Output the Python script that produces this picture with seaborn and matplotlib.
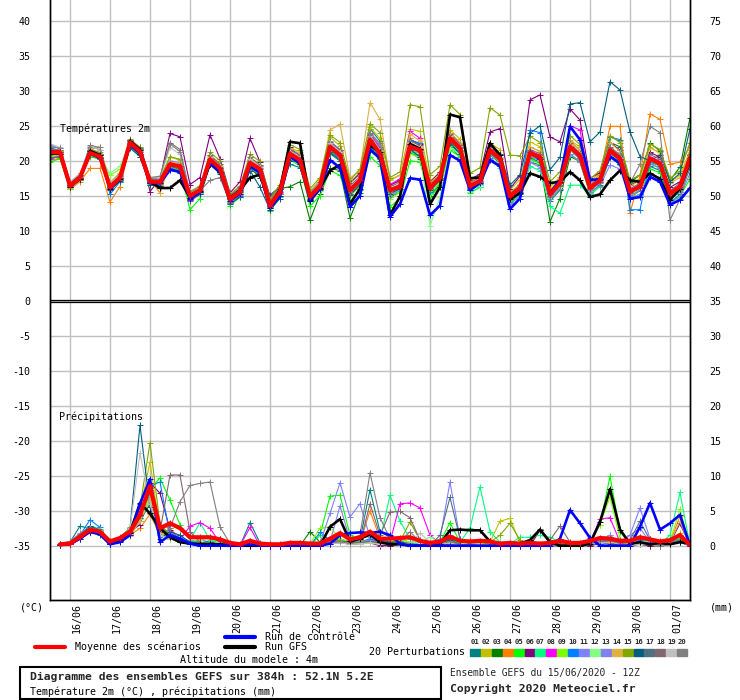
import matplotlib.pyplot as plt
import matplotlib.transforms as mtransforms
from matplotlib.lines import Line2D
from matplotlib.patches import Rectangle
import pandas as pd
import seaborn as sns

sns.set_theme(style="white")
plt.rcParams["font.family"] = ["DejaVu Sans Mono"]

W, H = 740, 700

# --- time axis (hours from 15/06/2020 12Z) ---
HOURS_T = list(range(0, 385, 6))
HOURS_P = list(range(6, 385, 6))
DATE_TICKS = list(range(12, 373, 24))
DATE_LABELS = ["16/06", "17/06", "18/06", "19/06", "20/06", "21/06", "22/06", "23/06",
               "24/06", "25/06", "26/06", "27/06", "28/06", "29/06", "30/06", "01/07"]
TEMP_TICKS = list(range(-35, 41, 5))
MM_TICKS = list(range(0, 76, 5))

MEMBERS = [f"{k:02d}" for k in range(1, 21)]
MEMBER_COLORS = ["#008080", "#c0c000", "#008000", "#ff8000", "#00ff00", "#800080", "#00ff80",
                 "#ff00ff", "#80ff00", "#0080ff", "#8080ff", "#80ff80", "#8080f0", "#e0b040",
                 "#80a800", "#005f80", "#507080", "#806870", "#c0c0c0", "#808080"]

# --- 2m temperature (°C) ---
T_MEAN = [21.2, 21.2,
          16.4, 17.6, 21.1, 20.6, 16.2, 17.6, 22.6, 21.3,
          17.0, 17.0, 19.5, 19.2, 15.0, 15.8, 20.2, 18.9,
          14.5, 15.6, 19.7, 18.8, 13.6, 15.6, 21.0, 20.1,
          14.9, 16.4, 22.0, 20.8, 15.8, 17.2, 23.0, 21.0,
          15.8, 16.3, 22.0, 21.5, 16.1, 17.6, 23.2, 21.8,
          16.4, 17.1, 21.5, 20.3, 14.9, 16.1, 21.1, 20.5,
          15.2, 16.8, 22.0, 20.7, 16.1, 17.2, 21.5, 20.3,
          15.6, 16.3, 20.3, 19.6, 15.3, 16.3, 20.4]
T_CTRL = [21.3, 21.2,
          16.5, 17.6, 21.0, 20.4, 16.1, 17.5, 22.3, 21.0,
          16.8, 16.8, 18.7, 18.4, 14.6, 15.5, 19.7, 18.4,
          14.3, 15.3, 19.2, 18.3, 13.2, 15.0, 20.6, 19.6,
          14.4, 16.0, 20.1, 19.0, 13.4, 15.0, 21.6, 20.4,
          12.0, 13.8, 17.5, 17.3, 12.2, 13.6, 20.8, 20.0,
          15.8, 16.8, 20.1, 19.2, 13.1, 14.6, 21.2, 20.2,
          15.4, 17.2, 24.9, 23.0, 17.2, 17.4, 20.6, 19.6,
          14.6, 14.8, 17.7, 17.0, 13.7, 14.4, 16.1]
T_GFS = [21.0, 21.0,
         16.3, 17.4, 21.4, 20.8, 16.0, 17.4, 22.8, 21.6,
         17.0, 16.1, 16.1, 17.2, 14.7, 15.7, 19.6, 18.4,
         14.7, 15.8, 17.6, 18.0, 13.6, 15.9, 22.7, 22.5,
         14.2, 16.1, 18.6, 19.4, 13.8, 16.0, 22.2, 21.2,
         12.2, 14.9, 22.4, 21.7, 13.8, 16.2, 26.6, 26.2,
         17.5, 17.6, 22.5, 20.8, 14.5, 15.4, 18.2, 17.7,
         16.8, 17.0, 18.4, 17.2, 14.8, 15.2, 17.2, 18.6,
         17.2, 17.0, 18.2, 17.4, 14.4, 16.0, 19.9]

T_01 = [21.5, 21.0,
        16.8, 17.8, 21.3, 20.4, 16.0, 17.2, 22.1, 20.8,
        16.6, 16.8, 19.0, 18.5, 14.6, 15.4, 19.6, 18.4,
        14.0, 15.0, 18.8, 17.9, 15.1, 16.3, 19.5, 19.0,
        15.3, 16.9, 21.0, 20.0, 15.0, 16.6, 24.6, 22.8,
        15.2, 16.0, 21.3, 20.2, 15.0, 16.5, 22.0, 20.5,
        15.8, 16.7, 20.8, 19.7, 14.0, 15.5, 19.8, 19.4,
        14.2, 15.8, 21.0, 19.8, 15.4, 16.6, 20.6, 19.5,
        14.8, 15.7, 19.2, 18.6, 14.0, 15.2, 19.0]
T_02 = [20.5, 20.8,
        16.2, 17.4, 21.0, 20.9, 16.6, 17.9, 23.0, 21.8,
        17.3, 17.2, 20.5, 20.1, 15.3, 16.0, 20.8, 19.6,
        14.8, 16.0, 20.6, 19.2, 14.2, 16.0, 21.8, 21.3,
        15.6, 17.3, 23.4, 22.1, 16.8, 18.4, 24.8, 23.2,
        17.2, 17.9, 24.5, 24.2, 17.1, 18.3, 24.4, 23.1,
        17.0, 18.0, 22.5, 21.6, 15.8, 17.3, 22.7, 22.0,
        16.2, 17.7, 22.9, 22.0, 17.0, 18.3, 23.4, 22.8,
        16.8, 17.4, 21.8, 21.2, 17.0, 17.9, 21.5]
T_03 = [20.8, 21.1,
        16.5, 17.7, 21.4, 20.8, 16.4, 17.8, 22.3, 21.0,
        16.8, 16.6, 19.2, 18.8, 14.7, 15.5, 19.8, 18.7,
        14.6, 15.7, 19.0, 17.6, 14.6, 16.0, 16.3, 17.0,
        11.5, 15.2, 18.9, 18.6, 11.8, 15.4, 21.4, 20.2,
        14.8, 15.5, 21.2, 20.6, 15.2, 16.8, 22.4, 21.0,
        15.9, 16.5, 21.0, 19.6, 14.1, 15.2, 20.4, 19.8,
        11.3, 14.6, 20.6, 19.9, 16.0, 17.4, 22.6, 22.0,
        17.0, 17.9, 22.5, 21.4, 17.2, 19.1, 26.1]
T_04 = [20.0, 20.4,
        15.9, 17.0, 18.9, 18.9, 14.1, 16.3, 22.0, 21.9,
        17.5, 15.4, 19.8, 19.0, 15.4, 16.2, 20.3, 19.1,
        14.8, 15.9, 20.1, 19.0, 13.9, 15.9, 21.4, 20.4,
        15.2, 16.8, 22.6, 21.4, 16.0, 17.5, 23.5, 21.8,
        16.5, 17.1, 23.2, 22.0, 16.4, 17.9, 23.8, 22.4,
        17.0, 17.8, 22.0, 21.0, 15.5, 16.6, 22.0, 21.3,
        15.8, 17.3, 22.7, 21.5, 16.8, 18.0, 24.9, 24.9,
        12.5, 17.8, 26.7, 25.9, 19.5, 19.8, 22.0]
T_05 = [19.8, 20.3,
        16.0, 17.3, 20.6, 20.2, 15.9, 17.0, 22.0, 20.6,
        16.5, 16.4, 19.0, 18.6, 13.0, 14.6, 19.5, 18.3,
        13.6, 14.8, 19.0, 18.0, 12.8, 14.8, 20.2, 19.2,
        13.5, 15.0, 18.6, 17.9, 14.2, 15.8, 20.6, 19.3,
        13.4, 14.6, 20.0, 19.8, 14.8, 16.4, 21.5, 20.6,
        15.4, 16.2, 20.4, 19.2, 14.2, 15.4, 20.2, 19.6,
        14.6, 16.0, 20.9, 19.8, 15.2, 16.3, 20.6, 19.4,
        14.5, 15.2, 18.8, 18.3, 14.0, 14.9, 17.4]
T_06 = [21.0, 21.4,
        16.9, 18.0, 21.6, 20.9, 16.6, 17.9, 23.0, 21.7,
        15.6, 17.4, 23.9, 23.4, 16.6, 17.6, 23.7, 20.3,
        15.4, 17.0, 23.2, 19.8, 14.9, 16.2, 21.9, 20.6,
        15.4, 17.0, 22.6, 21.6, 16.8, 18.2, 23.4, 21.6,
        16.5, 17.2, 23.0, 22.4, 16.9, 18.4, 24.0, 22.5,
        17.3, 18.1, 24.1, 24.6, 16.0, 17.8, 28.7, 29.4,
        23.4, 22.7, 27.4, 25.8, 17.5, 18.3, 22.6, 21.5,
        16.5, 17.2, 21.2, 20.5, 16.2, 17.0, 20.8]
T_07 = [20.3, 20.6,
        16.1, 17.5, 20.9, 20.3, 16.0, 17.4, 22.4, 21.0,
        16.7, 16.9, 19.4, 19.0, 14.8, 15.6, 20.0, 18.7,
        14.3, 15.4, 19.4, 18.4, 13.2, 15.2, 20.6, 19.6,
        14.3, 15.9, 21.4, 20.2, 15.2, 16.6, 22.3, 20.3,
        14.9, 15.7, 21.2, 20.7, 15.4, 16.9, 22.1, 20.8,
        15.5, 16.2, 20.2, 19.0, 14.0, 15.0, 19.2, 18.6,
        13.5, 12.5, 16.5, 16.5, 15.0, 16.4, 20.5, 19.6,
        14.9, 15.8, 19.5, 18.9, 14.6, 15.5, 19.3]
T_08 = [20.2, 20.7,
        16.4, 17.6, 21.0, 20.4, 16.3, 17.6, 22.5, 21.2,
        16.9, 16.9, 19.3, 19.0, 14.2, 15.2, 19.9, 18.6,
        14.6, 15.6, 19.6, 18.5, 13.5, 15.4, 21.2, 20.2,
        14.6, 16.2, 22.2, 21.1, 15.9, 17.3, 23.8, 22.0,
        16.6, 17.4, 24.2, 23.2, 16.2, 17.8, 23.6, 22.0,
        16.6, 17.3, 21.8, 20.6, 15.0, 16.2, 21.4, 20.8,
        15.6, 17.0, 25.0, 24.4, 16.3, 17.5, 21.7, 20.6,
        15.8, 16.6, 20.6, 19.9, 15.5, 16.5, 20.5]
T_09 = [20.6, 20.9,
        16.3, 17.5, 20.8, 20.4, 17.9, 18.8, 22.0, 20.9,
        16.9, 17.0, 19.3, 18.9, 14.5, 15.4, 19.8, 18.5,
        14.2, 15.2, 19.2, 18.3, 13.0, 15.0, 20.4, 19.4,
        14.2, 15.7, 21.2, 20.0, 14.9, 16.4, 22.0, 20.2,
        14.5, 15.5, 21.0, 20.4, 15.3, 16.8, 22.6, 21.2,
        16.0, 16.9, 21.2, 20.0, 14.6, 15.7, 20.6, 20.0,
        14.8, 16.2, 21.5, 20.2, 15.7, 16.9, 21.0, 19.9,
        15.2, 16.0, 19.8, 19.2, 15.0, 16.0, 19.8]
T_10 = [21.8, 21.5,
        16.7, 17.9, 21.5, 21.0, 15.2, 17.0, 22.2, 21.0,
        16.9, 17.0, 19.0, 18.2, 14.4, 15.2, 19.5, 18.4,
        14.0, 15.0, 19.3, 18.3, 13.4, 15.2, 20.5, 19.6,
        14.5, 16.0, 21.5, 20.2, 15.2, 16.8, 22.6, 20.8,
        16.0, 16.6, 22.9, 22.5, 15.6, 17.4, 23.0, 21.6,
        16.0, 16.8, 21.0, 19.8, 14.6, 15.8, 24.4, 24.0,
        15.0, 16.5, 21.8, 20.4, 15.8, 17.0, 23.4, 23.0,
        13.0, 13.0, 19.8, 19.3, 14.5, 15.6, 20.0]
T_11 = [22.2, 21.8,
        16.9, 18.0, 21.8, 21.0, 16.6, 17.9, 22.9, 21.6,
        17.3, 17.3, 20.0, 19.7, 15.4, 16.2, 20.6, 19.3,
        14.9, 16.1, 20.1, 19.2, 14.0, 16.0, 21.5, 20.8,
        15.4, 17.0, 22.8, 21.6, 16.4, 17.8, 24.0, 22.2,
        15.0, 15.8, 21.5, 21.0, 15.8, 17.2, 22.8, 21.4,
        16.1, 16.6, 20.4, 19.2, 13.8, 14.9, 19.8, 19.0,
        14.6, 16.0, 21.0, 19.8, 15.5, 16.4, 19.4, 18.8,
        14.6, 15.2, 18.0, 17.6, 14.0, 14.8, 18.2]
T_12 = [20.9, 21.0,
        16.6, 17.8, 21.0, 20.5, 18.2, 19.2, 22.6, 21.2,
        17.1, 17.0, 19.4, 19.1, 14.9, 15.7, 20.1, 18.8,
        14.4, 15.5, 19.5, 18.5, 13.3, 15.3, 20.7, 19.8,
        14.6, 16.1, 21.6, 20.4, 15.4, 16.9, 22.6, 20.6,
        15.3, 16.0, 21.6, 21.1, 10.7, 14.8, 21.8, 20.9,
        15.6, 16.6, 20.9, 19.8, 14.4, 15.8, 20.6, 20.1,
        15.0, 16.6, 21.6, 20.4, 15.8, 17.0, 21.2, 20.0,
        15.3, 16.0, 20.0, 19.3, 14.9, 15.9, 19.6]
T_13 = [21.6, 21.4,
        16.8, 17.9, 21.4, 20.8, 16.3, 17.7, 22.7, 21.4,
        17.2, 17.1, 19.7, 19.4, 15.1, 15.9, 20.3, 19.0,
        14.6, 15.7, 19.9, 18.9, 13.7, 15.7, 21.2, 20.3,
        15.0, 16.6, 22.4, 21.2, 16.0, 17.4, 23.5, 21.6,
        15.6, 16.4, 22.4, 22.0, 16.0, 17.5, 23.0, 21.6,
        16.2, 16.9, 21.2, 20.0, 14.6, 15.8, 20.6, 20.0,
        14.9, 16.4, 21.6, 20.2, 15.8, 16.8, 20.8, 19.8,
        15.0, 15.8, 19.6, 19.0, 14.8, 15.6, 19.4]
T_14 = [21.0, 21.4,
        16.0, 17.2, 21.7, 22.0, 16.9, 18.3, 23.0, 21.9,
        17.2, 15.4, 19.8, 19.6, 15.4, 16.2, 20.7, 19.5,
        15.0, 16.1, 20.2, 19.4, 14.3, 16.3, 21.8, 21.0,
        15.6, 17.2, 24.4, 25.2, 17.5, 18.6, 28.3, 25.9,
        17.4, 17.9, 23.8, 22.8, 16.8, 18.2, 24.0, 22.6,
        16.9, 17.6, 22.4, 21.0, 15.4, 16.7, 21.9, 21.4,
        15.8, 17.4, 22.8, 21.6, 16.6, 17.8, 22.6, 21.3,
        16.3, 17.2, 22.0, 21.0, 16.8, 17.6, 21.2]
T_15 = [21.4, 21.6,
        16.6, 17.9, 21.6, 21.2, 16.8, 18.1, 23.1, 21.9,
        17.6, 17.5, 20.6, 20.2, 15.6, 16.4, 21.2, 20.0,
        15.2, 16.4, 20.9, 19.9, 14.6, 16.6, 22.3, 21.6,
        16.0, 17.6, 23.7, 22.6, 17.2, 18.8, 25.3, 24.0,
        17.6, 18.4, 28.0, 27.7, 18.0, 19.2, 28.0, 26.6,
        18.2, 19.0, 27.6, 26.5, 20.8, 20.7, 23.5, 22.6,
        17.0, 18.4, 23.6, 22.3, 17.4, 18.6, 23.6, 22.6,
        17.2, 18.0, 22.4, 21.6, 17.5, 18.5, 22.6]
T_16 = [21.2, 21.0,
        16.3, 17.4, 21.0, 20.4, 15.8, 17.1, 21.8, 20.6,
        16.6, 16.4, 18.8, 18.3, 14.4, 15.2, 19.5, 18.1,
        13.8, 14.8, 18.6, 16.2, 13.0, 14.6, 20.0, 19.8,
        14.4, 15.8, 21.2, 20.0, 15.1, 16.5, 22.0, 19.9,
        15.3, 16.0, 21.6, 20.6, 15.8, 17.2, 22.6, 21.0,
        16.4, 17.4, 22.0, 21.0, 16.5, 18.0, 23.9, 25.0,
        18.7, 20.5, 28.1, 28.3, 22.7, 24.1, 31.3, 30.1,
        24.1, 20.6, 20.0, 20.8, 17.0, 18.2, 24.6]
T_17 = [20.4, 20.6,
        16.2, 17.3, 20.8, 20.3, 16.0, 17.3, 22.2, 20.9,
        16.9, 16.7, 19.2, 18.8, 14.7, 15.5, 19.8, 18.5,
        14.1, 15.2, 19.2, 18.3, 13.3, 15.2, 20.6, 19.7,
        14.5, 16.0, 21.6, 20.3, 15.3, 16.7, 22.4, 20.5,
        15.5, 16.2, 21.7, 21.2, 15.9, 17.4, 22.8, 21.4,
        16.1, 16.9, 21.0, 19.9, 14.7, 15.9, 20.8, 20.2,
        15.0, 16.6, 21.7, 20.4, 15.9, 16.9, 21.1, 20.0,
        15.4, 16.1, 20.0, 19.3, 15.1, 16.0, 20.0]
T_18 = [21.7, 21.5,
        16.9, 18.0, 22.0, 21.6, 16.7, 18.0, 23.0, 21.8,
        17.4, 17.5, 22.6, 21.6, 15.4, 16.2, 20.8, 19.5,
        15.0, 16.2, 20.5, 19.4, 14.2, 16.2, 21.6, 20.8,
        15.3, 16.9, 22.7, 21.5, 16.3, 17.8, 23.7, 21.7,
        16.3, 16.9, 22.8, 22.2, 16.6, 18.0, 23.8, 22.3,
        16.8, 17.6, 22.0, 20.8, 15.3, 16.5, 21.6, 21.0,
        15.6, 17.2, 22.5, 21.1, 16.5, 17.6, 22.0, 20.8,
        16.0, 16.8, 20.9, 20.2, 15.7, 16.8, 21.0]
T_19 = [22.4, 21.9,
        17.0, 18.2, 22.1, 21.5, 16.8, 18.0, 22.8, 21.6,
        17.5, 17.6, 21.9, 20.9, 15.3, 16.1, 20.5, 19.2,
        14.8, 16.0, 20.2, 19.1, 13.9, 15.9, 21.3, 20.5,
        15.2, 16.8, 22.5, 21.3, 16.2, 17.6, 23.6, 21.5,
        16.0, 16.8, 22.5, 22.0, 16.4, 17.8, 23.5, 22.1,
        16.7, 17.4, 21.8, 20.6, 15.0, 16.2, 21.2, 20.6,
        15.3, 16.9, 22.2, 20.8, 16.2, 17.2, 21.6, 20.4,
        15.6, 16.4, 20.4, 19.7, 15.4, 16.4, 20.3]
T_20 = [22.0, 21.8,
        16.6, 17.8, 22.2, 21.9, 16.5, 17.8, 22.9, 21.7,
        17.6, 17.8, 22.4, 21.3, 14.9, 15.7, 17.2, 17.6,
        14.0, 15.1, 19.0, 18.0, 13.4, 15.2, 20.4, 19.6,
        14.6, 16.2, 21.8, 20.6, 15.6, 17.0, 24.0, 22.5,
        15.6, 16.4, 22.2, 21.7, 16.0, 17.6, 23.4, 21.9,
        16.3, 17.0, 21.6, 20.4, 14.4, 15.6, 20.8, 20.4,
        14.8, 16.4, 21.8, 20.6, 16.0, 17.1, 21.8, 20.9,
        16.8, 19.5, 24.9, 24.0, 11.5, 14.5, 19.5]

# --- 6-hourly precipitation (mm) ---
P_MEAN = [0.2, 0.3, 1.3, 2.3, 2.0, 0.6, 1.1, 2.0,
          4.4, 8.5, 2.5, 3.2, 2.5, 1.2, 1.2, 1.2,
          0.9, 0.4, 0.2, 0.7, 0.3, 0.2, 0.2, 0.4,
          0.4, 0.3, 0.3, 1.0, 1.8, 0.9, 1.2, 2.0,
          1.0, 1.0, 1.1, 1.2, 0.7, 0.4, 0.6, 1.3,
          0.7, 0.6, 0.7, 0.6, 0.3, 0.4, 0.3, 0.4,
          0.3, 0.4, 0.7, 0.4, 0.4, 0.7, 1.1, 1.0,
          0.7, 0.7, 1.2, 0.9, 0.6, 0.8, 1.5, 0.1]
P_CTRL = [0.1, 0.2, 1.0, 2.0, 1.6, 0.2, 0.5, 1.5,
          6.0, 9.5, 0.5, 1.5, 1.0, 0.3, 0.0, 0.0,
          0.0, 0.0, 0.0, 0.2, 0.0, 0.0, 0.0, 0.0,
          0.0, 0.0, 0.0, 0.3, 1.5, 1.8, 1.9, 1.8,
          2.0, 1.5, 0.3, 0.0, 0.0, 0.0, 0.0, 0.0,
          0.0, 0.0, 0.0, 0.0, 0.0, 0.0, 0.0, 0.0,
          0.0, 0.0, 1.0, 5.1, 3.2, 1.1, 0.0, 0.0,
          0.0, 0.0, 2.7, 6.1, 2.3, 3.2, 4.4, 0.0]
P_GFS = [0.1, 0.3, 1.2, 2.0, 1.8, 0.3, 0.6, 1.8,
         6.1, 4.6, 2.5, 1.2, 0.5, 0.3, 0.2, 0.2,
         0.2, 0.0, 0.0, 0.0, 0.0, 0.0, 0.0, 0.0,
         0.0, 0.0, 0.0, 2.7, 3.8, 0.6, 1.0, 1.6,
         0.5, 0.2, 0.2, 0.0, 0.0, 0.0, 0.3, 2.2,
         2.3, 2.2, 2.2, 0.6, 0.0, 0.2, 0.3, 0.8,
         2.3, 0.5, 0.0, 0.0, 0.0, 0.3, 3.4, 8.1,
         2.3, 0.3, 0.5, 0.2, 0.4, 0.2, 0.5, 0.3]

P_01 = [0.2, 0.5, 2.8, 2.4, 1.5, 0.3, 0.8, 1.5,
        3.5, 6.0, 1.5, 2.0, 1.0, 0.5, 0.8, 0.5,
        0.6, 0.2, 0.0, 3.3, 0.4, 0.0, 0.0, 0.0,
        0.0, 0.3, 0.0, 0.5, 1.0, 0.5, 0.8, 8.0,
        2.0, 1.2, 0.5, 0.2, 0.0, 0.0, 0.5, 1.0,
        0.2, 0.3, 0.5, 0.2, 0.0, 0.0, 0.0, 0.2,
        0.0, 0.3, 0.5, 0.2, 0.0, 0.5, 1.0, 0.8,
        0.3, 0.5, 1.0, 0.6, 0.2, 0.5, 1.0, 0.0]
P_02 = [0.3, 0.6, 1.6, 2.6, 2.2, 0.4, 1.0, 2.2,
        5.0, 12.0, 2.0, 1.5, 0.5, 0.2, 0.0, 0.0,
        0.0, 0.0, 0.0, 0.2, 0.0, 0.0, 0.0, 0.2,
        0.0, 0.0, 0.4, 0.8, 0.5, 0.2, 0.3, 0.6,
        0.5, 0.3, 1.0, 0.5, 0.0, 0.0, 0.3, 0.5,
        0.2, 0.0, 0.2, 0.5, 3.5, 3.9, 0.4, 0.0,
        0.0, 0.0, 0.2, 0.0, 0.0, 0.3, 0.8, 1.5,
        0.4, 0.2, 0.5, 0.3, 0.0, 0.2, 1.8, 0.0]
P_03 = [0.1, 0.3, 1.0, 2.2, 2.0, 0.5, 0.9, 1.8,
        4.5, 7.5, 2.0, 1.2, 0.5, 0.3, 0.2, 0.0,
        0.0, 0.0, 0.0, 0.3, 0.0, 0.0, 0.0, 0.3,
        0.0, 2.0, 0.5, 0.2, 0.8, 0.3, 0.4, 0.5,
        0.2, 0.0, 0.3, 0.0, 0.0, 0.0, 0.4, 0.8,
        0.0, 0.0, 0.0, 0.0, 0.5, 0.3, 0.0, 0.0,
        0.0, 0.0, 0.0, 0.2, 0.0, 0.0, 0.6, 0.3,
        0.0, 0.0, 0.4, 0.0, 0.0, 0.3, 0.5, 0.0]
P_04 = [0.2, 0.4, 1.2, 2.0, 2.0, 0.5, 0.6, 1.5,
        2.5, 4.5, 1.5, 2.5, 1.0, 0.3, 0.3, 0.2,
        0.0, 0.0, 0.0, 0.0, 0.0, 0.0, 0.0, 0.0,
        0.0, 0.0, 0.0, 0.5, 0.5, 0.3, 0.4, 5.0,
        1.0, 0.5, 0.5, 0.3, 0.0, 0.0, 0.0, 0.3,
        0.0, 0.0, 0.0, 0.0, 0.0, 0.0, 0.0, 0.0,
        0.0, 0.0, 0.0, 0.0, 0.0, 0.2, 0.5, 0.4,
        0.0, 0.0, 0.3, 0.0, 0.0, 0.5, 4.2, 0.0]
P_05 = [0.2, 0.3, 1.5, 2.8, 2.4, 0.3, 1.2, 2.5,
        4.0, 8.0, 9.7, 6.5, 3.0, 0.8, 0.5, 0.3,
        0.2, 0.0, 0.0, 0.5, 0.2, 0.0, 0.0, 0.0,
        0.0, 0.0, 1.5, 7.1, 7.2, 1.5, 0.8, 0.5,
        0.3, 0.2, 0.3, 0.0, 0.0, 0.0, 0.5, 3.3,
        0.5, 0.2, 0.0, 0.0, 0.0, 0.0, 0.3, 0.0,
        0.0, 0.2, 0.0, 0.0, 0.0, 0.5, 3.0, 9.9,
        2.0, 0.3, 0.2, 0.0, 0.0, 0.3, 1.0, 0.0]
P_06 = [0.2, 0.4, 1.3, 2.2, 2.0, 0.5, 1.0, 2.0,
        3.0, 9.0, 7.5, 2.3, 0.8, 0.5, 0.3, 0.2,
        1.0, 0.0, 0.0, 0.3, 0.0, 0.0, 0.0, 0.2,
        0.0, 0.0, 0.0, 0.3, 0.5, 0.2, 0.3, 0.4,
        0.0, 0.0, 0.2, 0.0, 0.0, 0.0, 0.0, 0.3,
        0.0, 0.0, 0.2, 0.0, 0.0, 0.0, 0.0, 0.0,
        2.2, 0.4, 0.3, 0.0, 0.0, 0.0, 0.3, 0.5,
        0.0, 0.0, 0.2, 0.0, 0.0, 0.4, 3.2, 0.0]
P_07 = [0.1, 0.3, 1.1, 2.0, 1.8, 0.5, 0.8, 1.8,
        4.0, 6.5, 1.8, 1.0, 0.5, 0.8, 3.3, 0.8,
        0.3, 0.0, 0.0, 0.6, 0.0, 0.0, 0.0, 0.0,
        0.0, 0.0, 0.0, 0.3, 0.6, 0.3, 0.2, 0.5,
        0.8, 7.2, 3.5, 1.0, 0.0, 0.0, 0.3, 0.8,
        0.5, 2.5, 8.4, 2.0, 0.5, 0.3, 1.2, 1.2,
        1.5, 1.2, 0.5, 0.5, 0.2, 0.3, 0.5, 0.8,
        0.5, 0.3, 0.6, 0.4, 0.2, 1.5, 7.6, 0.0]
P_08 = [0.2, 0.3, 1.3, 2.4, 2.0, 0.4, 0.9, 1.8,
        4.5, 8.0, 3.0, 1.5, 0.8, 2.8, 3.3, 2.5,
        0.4, 0.0, 0.0, 2.6, 0.0, 0.0, 0.0, 0.0,
        0.0, 0.0, 0.2, 0.5, 0.8, 0.4, 0.5, 0.8,
        0.5, 0.5, 6.0, 6.1, 5.4, 1.5, 0.3, 0.5,
        0.0, 0.0, 0.0, 0.0, 0.0, 0.0, 0.0, 0.0,
        0.0, 0.0, 0.0, 0.3, 0.0, 0.5, 3.8, 4.0,
        0.5, 0.0, 0.8, 0.2, 0.0, 0.3, 0.5, 0.0]
P_09 = [0.2, 0.5, 1.4, 2.1, 1.9, 0.4, 1.0, 2.0,
        3.8, 7.0, 2.2, 1.2, 0.8, 0.3, 0.2, 0.2,
        0.2, 0.0, 0.0, 0.5, 0.0, 0.0, 0.0, 0.0,
        0.0, 0.3, 2.5, 2.7, 1.0, 0.5, 0.3, 0.4,
        0.3, 0.5, 0.8, 0.5, 0.0, 0.0, 0.3, 0.6,
        0.3, 0.0, 0.3, 0.0, 0.0, 0.2, 0.0, 0.0,
        0.0, 0.3, 0.2, 0.0, 0.0, 0.5, 3.0, 7.0,
        1.0, 0.2, 0.5, 0.3, 0.0, 0.6, 5.2, 0.0]
P_10 = [0.2, 0.4, 1.5, 3.7, 2.6, 0.3, 0.7, 1.6,
        4.0, 8.5, 9.1, 1.5, 0.6, 0.2, 0.0, 0.0,
        0.0, 0.0, 0.0, 0.3, 0.0, 0.0, 0.0, 0.0,
        0.0, 0.0, 1.9, 0.8, 0.5, 0.6, 0.5, 1.0,
        0.5, 0.3, 0.4, 0.2, 0.0, 0.0, 0.2, 1.5,
        0.3, 0.0, 0.0, 0.0, 0.0, 0.0, 0.0, 0.0,
        0.0, 0.0, 0.0, 0.0, 0.0, 0.2, 0.3, 0.5,
        0.2, 0.0, 0.8, 0.3, 0.0, 0.2, 0.5, 0.0]
P_11 = [0.3, 0.6, 1.8, 2.6, 2.3, 0.5, 1.0, 2.2,
        4.8, 8.8, 2.4, 2.0, 1.2, 0.6, 0.5, 0.3,
        0.2, 0.0, 0.0, 0.4, 0.0, 0.0, 0.0, 0.0,
        0.0, 0.0, 0.3, 4.6, 9.0, 4.1, 6.0, 1.2,
        0.6, 0.4, 0.5, 0.3, 0.2, 0.0, 1.0, 9.1,
        1.0, 0.3, 0.2, 0.0, 0.0, 0.0, 0.0, 0.0,
        0.0, 0.2, 0.0, 0.0, 0.0, 0.5, 0.8, 0.5,
        0.6, 1.5, 5.4, 1.0, 0.5, 0.5, 0.8, 0.0]
P_12 = [0.1, 0.3, 1.2, 2.2, 2.0, 0.4, 0.8, 1.7,
        4.2, 7.8, 2.0, 1.4, 0.6, 0.4, 0.8, 1.2,
        0.3, 0.0, 0.0, 0.3, 0.0, 0.0, 0.0, 0.0,
        0.0, 0.0, 0.3, 0.5, 0.6, 0.3, 0.3, 0.4,
        0.2, 0.4, 0.3, 0.6, 0.5, 1.2, 0.5, 0.6,
        0.3, 0.3, 0.2, 0.0, 0.5, 0.0, 0.3, 0.0,
        0.2, 0.0, 0.3, 0.0, 0.0, 0.3, 0.6, 1.0,
        0.3, 0.3, 0.6, 0.5, 0.0, 0.4, 0.6, 0.0]
P_13 = [0.2, 0.4, 1.4, 2.4, 2.1, 0.4, 0.9, 1.9,
        4.3, 8.2, 2.5, 1.8, 0.8, 0.4, 0.3, 0.3,
        0.2, 0.0, 0.0, 0.3, 0.0, 0.0, 0.0, 0.0,
        0.0, 0.0, 0.2, 0.5, 5.7, 0.8, 0.6, 0.8,
        0.4, 0.3, 0.4, 0.2, 0.0, 0.0, 0.3, 0.6,
        0.2, 0.0, 0.0, 0.0, 0.0, 0.0, 0.0, 0.0,
        0.0, 0.0, 0.0, 0.0, 0.0, 0.3, 0.5, 1.5,
        0.3, 1.5, 2.5, 0.5, 0.0, 0.3, 0.8, 0.0]
P_14 = [0.1, 0.2, 1.0, 1.8, 1.6, 0.3, 0.7, 1.4,
        3.5, 6.5, 1.8, 1.0, 0.5, 0.2, 0.2, 0.0,
        0.0, 0.0, 0.0, 0.2, 0.0, 0.0, 0.0, 0.0,
        0.0, 0.0, 0.0, 0.3, 0.4, 0.2, 0.3, 0.5,
        0.3, 0.2, 0.3, 0.0, 0.0, 0.0, 0.2, 0.4,
        0.0, 0.0, 0.0, 0.0, 0.0, 0.0, 0.0, 0.0,
        0.0, 0.0, 0.0, 0.0, 0.0, 0.2, 0.5, 0.8,
        0.2, 0.0, 0.3, 0.2, 0.0, 0.5, 3.5, 0.0]
P_15 = [0.3, 0.5, 1.6, 2.5, 2.2, 0.5, 1.1, 2.6,
        5.5, 14.7, 3.0, 1.6, 0.8, 0.3, 0.3, 0.2,
        0.2, 0.0, 0.0, 0.3, 0.0, 0.0, 0.0, 0.0,
        0.0, 0.0, 0.3, 0.6, 0.8, 0.4, 0.5, 0.6,
        0.4, 0.5, 0.6, 3.4, 0.8, 0.3, 0.5, 0.5,
        0.2, 0.0, 0.0, 0.5, 1.5, 3.2, 0.8, 0.0,
        0.0, 0.0, 0.2, 0.0, 0.0, 0.3, 0.6, 0.8,
        0.3, 0.2, 0.5, 0.2, 0.0, 0.4, 0.6, 0.0]
P_16 = [0.3, 0.5, 1.5, 2.8, 2.2, 0.5, 1.0, 2.5,
        17.2, 5.5, 1.0, 2.0, 1.5, 0.5, 0.5, 0.3,
        0.3, 0.2, 0.0, 0.5, 0.0, 0.0, 0.0, 0.0,
        0.0, 0.0, 0.3, 0.5, 0.6, 0.5, 1.0, 1.5,
        0.8, 0.5, 0.5, 0.3, 0.0, 0.0, 0.3, 0.8,
        0.2, 0.0, 0.0, 0.0, 0.0, 0.0, 0.0, 0.0,
        0.0, 0.0, 0.0, 0.0, 0.0, 0.3, 0.5, 0.5,
        0.2, 0.0, 0.5, 0.3, 0.0, 0.2, 0.5, 0.0]
P_17 = [0.2, 0.4, 1.3, 2.3, 2.0, 0.4, 0.9, 1.9,
        4.4, 8.3, 2.4, 1.6, 0.7, 0.3, 0.3, 0.2,
        0.2, 0.0, 0.0, 0.3, 0.0, 0.0, 0.0, 0.0,
        0.0, 0.0, 0.2, 0.4, 0.5, 0.3, 0.4, 0.6,
        0.4, 0.3, 0.4, 0.2, 0.0, 0.0, 1.5, 6.9,
        1.0, 0.2, 0.0, 0.0, 0.0, 0.0, 0.0, 0.0,
        0.0, 0.0, 0.3, 0.0, 0.0, 0.3, 0.6, 0.8,
        0.4, 0.8, 3.5, 0.8, 0.3, 0.4, 0.8, 0.0]
P_18 = [0.2, 0.4, 1.4, 2.2, 2.0, 0.4, 0.9, 2.0,
        4.5, 8.0, 2.0, 10.1, 10.1, 2.0, 0.5, 0.2,
        0.2, 0.0, 0.0, 0.3, 0.0, 0.0, 0.0, 0.0,
        0.0, 0.0, 0.2, 0.4, 0.5, 0.3, 0.4, 6.0,
        1.5, 4.8, 4.9, 4.0, 0.8, 0.0, 0.0, 0.3,
        0.0, 0.0, 0.0, 0.0, 0.0, 0.0, 0.0, 0.2,
        2.4, 0.8, 2.8, 0.5, 0.0, 0.2, 0.5, 0.6,
        0.2, 0.0, 0.3, 0.2, 0.0, 0.3, 0.6, 0.0]
P_19 = [0.3, 0.5, 1.5, 2.5, 2.2, 0.5, 1.0, 2.5,
        13.2, 6.0, 1.5, 1.0, 0.5, 0.2, 0.2, 0.0,
        0.0, 0.0, 0.0, 0.2, 0.0, 0.0, 0.0, 0.0,
        0.0, 0.0, 0.2, 0.3, 0.4, 0.2, 0.3, 0.4,
        0.2, 0.2, 0.3, 0.2, 1.8, 0.5, 0.2, 0.4,
        0.0, 0.0, 0.0, 0.0, 0.0, 0.0, 0.0, 0.0,
        0.0, 0.0, 0.0, 0.0, 0.0, 0.2, 0.4, 0.5,
        0.2, 0.0, 0.3, 0.2, 0.0, 0.3, 0.5, 0.0]
P_20 = [0.2, 0.5, 1.6, 2.4, 2.1, 0.5, 1.0, 2.2,
        4.2, 7.5, 3.0, 2.5, 6.3, 8.6, 8.9, 9.1,
        2.7, 0.3, 0.0, 0.4, 0.0, 0.0, 0.0, 0.0,
        0.0, 0.0, 0.3, 0.5, 0.6, 0.4, 1.5, 10.4,
        4.0, 1.0, 0.6, 2.0, 0.5, 0.0, 0.3, 0.6,
        0.2, 0.0, 0.0, 0.0, 0.0, 0.0, 0.0, 0.0,
        0.0, 0.0, 0.2, 0.0, 0.0, 0.3, 0.6, 0.8,
        0.3, 0.2, 0.5, 0.3, 0.0, 0.4, 0.6, 0.0]

TEMP_MEMBERS = [T_01, T_02, T_03, T_04, T_05, T_06, T_07, T_08, T_09, T_10,
                T_11, T_12, T_13, T_14, T_15, T_16, T_17, T_18, T_19, T_20]
PRECIP_MEMBERS = [P_01, P_02, P_03, P_04, P_05, P_06, P_07, P_08, P_09, P_10,
                  P_11, P_12, P_13, P_14, P_15, P_16, P_17, P_18, P_19, P_20]


def px(x, y):
    """Pixel position in the 740x700 image -> figure fraction."""
    return x / W, 1 - y / H


def draw_series(ax, hours, vals, color, lw, ms=4):
    df = pd.DataFrame({"heure": hours, "valeur": vals})
    sns.lineplot(data=df, x="heure", y="valeur", ax=ax, color=color, linewidth=lw,
                 marker="+", markersize=ms, markeredgewidth=0.7, markeredgecolor=color,
                 estimator=None, sort=False, legend=False)


fig = plt.figure(figsize=(W / 100, H / 100), dpi=100)
ax = fig.add_axes([50 / W, 100 / H, 640 / W, 600 / H])
ax2 = ax.twinx()

ax.set_xlim(0, 384)
ax.set_ylim(-42.76, 42.96)
ax2.set_ylim(-42.76 + 35, 42.96 + 35)

# temperature spaghetti (left axis, °C)
for vals, col in zip(TEMP_MEMBERS, MEMBER_COLORS):
    draw_series(ax, HOURS_T, vals, col, 0.8)
draw_series(ax, HOURS_T, T_GFS, "black", 1.9)
draw_series(ax, HOURS_T, T_CTRL, "#0000ff", 1.9)
draw_series(ax, HOURS_T, T_MEAN, "#ff0000", 3.0)

# precipitation spaghetti (right axis, mm)
for vals, col in zip(PRECIP_MEMBERS, MEMBER_COLORS):
    draw_series(ax2, HOURS_P, vals, col, 0.8)
draw_series(ax2, HOURS_P, P_GFS, "black", 1.9)
draw_series(ax2, HOURS_P, P_CTRL, "#0000ff", 1.9)
draw_series(ax2, HOURS_P, P_MEAN, "#ff0000", 3.0)

ax.set_xlabel("")
ax.set_ylabel("")
ax2.set_xlabel("")
ax2.set_ylabel("")

ax.set_xticks(DATE_TICKS)
ax.set_xticklabels(DATE_LABELS, rotation=90)
ax.set_yticks(TEMP_TICKS)
ax.set_yticklabels([str(v) for v in TEMP_TICKS])
ax2.set_yticks(MM_TICKS)
ax2.set_yticklabels([str(v) for v in MM_TICKS])

ax.grid(True, color="#c0c0c0", linewidth=1.0)
ax.set_axisbelow(True)
ax2.grid(False)

ax.tick_params(axis="y", length=0, pad=14, labelsize=7.2, colors="black")
ax2.tick_params(axis="y", length=0, pad=14, labelsize=7.2, colors="black")
ax.tick_params(axis="x", length=0, pad=2, labelsize=7.2, colors="black")

offset = mtransforms.ScaledTranslation(7 / 100, 0, fig.dpi_scale_trans)
for lab in ax.get_xticklabels():
    lab.set_transform(lab.get_transform() + offset)

for a in (ax, ax2):
    a.spines["top"].set_visible(False)
    for side in ("left", "right", "bottom"):
        a.spines[side].set_color("black")
        a.spines[side].set_linewidth(1.0)

# double separator between the two panels
ax.axhline(0.12, color="black", linewidth=0.9, zorder=3)
ax.axhline(-0.16, color="black", linewidth=0.9, zorder=3)

txt = dict(fontsize=7.2, va="center", ha="left", color="black")
fig.text(*px(60, 129), "Températures 2m", **txt)
fig.text(*px(59, 417), "Précipitations", **txt)
fig.text(*px(20, 607), "(°C)", **txt)
fig.text(*px(710, 607), "(mm)", **txt)

# legend of the main runs
fig.add_artist(Line2D([35 / W, 65 / W], [1 - 647 / H] * 2, color="#ff0000", linewidth=3))
fig.text(*px(75, 647), "Moyenne des scénarios", **txt)
fig.add_artist(Line2D([225 / W, 255 / W], [1 - 637 / H] * 2, color="#0000ff", linewidth=3))
fig.text(*px(265, 637), "Run de contrôle", **txt)
fig.add_artist(Line2D([225 / W, 255 / W], [1 - 647 / H] * 2, color="black", linewidth=3))
fig.text(*px(265, 647), "Run GFS", **txt)
fig.text(*px(180, 660), "Altitude du modele : 4m", **txt)

# perturbation colour keys
fig.text(*px(369, 652), "20 Perturbations", **txt)
for k, (name, col) in enumerate(zip(MEMBERS, MEMBER_COLORS)):
    x0 = 470 + k * 10.9
    fig.add_artist(Rectangle((x0 / W, 1 - 656 / H), 10 / W, 7 / H, color=col,
                             transform=fig.transFigure))
    fig.text(*px(x0 + 5, 642), name, fontsize=5.2, fontweight="bold",
             ha="center", va="center")

# title box
fig.add_artist(Rectangle((20 / W, 1 / H), 421 / W, 32 / H, fill=False, edgecolor="black",
                         linewidth=1.5, transform=fig.transFigure))
fig.text(*px(30, 677), "Diagramme des ensembles GEFS sur 384h : 52.1N 5.2E",
         fontsize=8.2, fontweight="bold", va="center", ha="left")
fig.text(*px(30, 692), "Température 2m (°C) , précipitations (mm)", **txt)
fig.text(*px(450, 673), "Ensemble GEFS du 15/06/2020 - 12Z", fontsize=6.9, va="center")
fig.text(*px(450, 689), "Copyright 2020 Meteociel.fr", fontsize=8.2, fontweight="bold",
         va="center")

fig.savefig("out.png", dpi=100)
plt.close(fig)
